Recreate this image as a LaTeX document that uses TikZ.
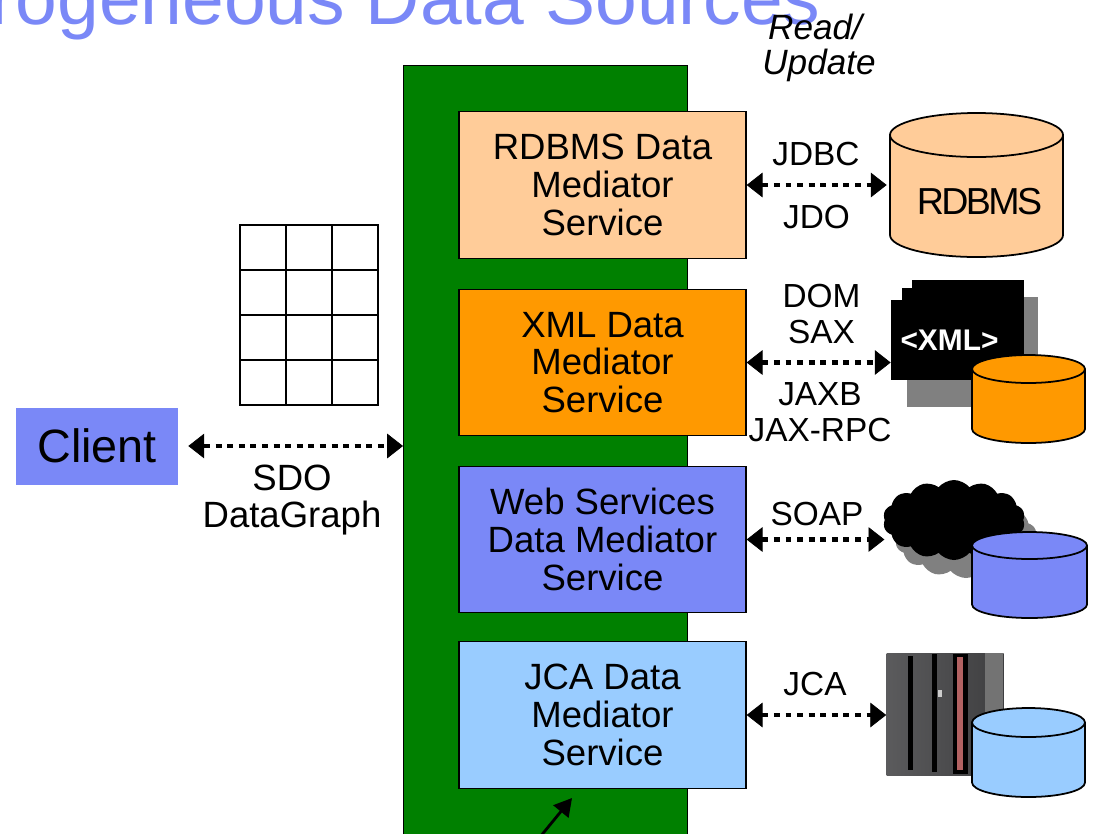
\documentclass[tikz,border=0pt]{standalone}
\usepackage{fontspec}
\setmainfont{Liberation Sans}
\usepackage{tikz}
\usetikzlibrary{arrows.meta,positioning,shapes.symbols}
\definecolor{dmpeach}{RGB}{255,204,153}
\definecolor{dmorange}{RGB}{255,153,0}
\definecolor{dmblue}{RGB}{122,136,247}
\definecolor{dmsky}{RGB}{153,204,255}
\definecolor{dmgreen}{RGB}{0,128,0}
\definecolor{dmshadow}{RGB}{128,128,128}
\definecolor{dmrack}{RGB}{62,62,64}
\definecolor{dmstripe}{RGB}{178,98,98}

\begin{document}
\begin{tikzpicture}[x=0.02cm, y=0.02cm,
  mediator/.style={draw=black, line width=0.8pt, minimum width=5.74cm, minimum height=2.93cm, inner sep=0pt, align=center, font=\fontsize{20.8}{21.5}\selectfont},
  access/.style={line width=2.8pt, dash pattern=on 3.4pt off 3.2pt, {Triangle[length=9pt,width=14pt,line width=0.4pt]}-{Triangle[length=9pt,width=14pt,line width=0.4pt]}},
  api/.style={anchor=base, inner sep=0pt, font=\fontsize{19}{20}\selectfont},
  caption/.style={anchor=base, inner sep=0pt, font=\fontsize{20.8}{21.5}\selectfont},
  dbside/.style={draw=black, line width=1pt},
  page/.style={fill=black, inner sep=0pt}]

  \useasboundingbox (0,0) rectangle (1094,-833);
  \clip (0,0) rectangle (1094,-833);

  %% heading, runs off the top edge
  \node[anchor=base east, inner sep=0pt, text=dmblue, font=\fontsize{42.7}{45}\selectfont] (heading) at (821,-24) {Heterogeneous Data Sources};

  %% mediator bus with the four services
  \node[draw=black, fill=dmgreen, line width=0.8pt, minimum width=5.68cm, minimum height=15.8cm, inner sep=0pt, anchor=north west] (bus) at (403,-65) {};
  \node[mediator, fill=dmpeach] (rdbmsmed) at (602.5,-185) {RDBMS Data\\Mediator\\Service};
  \node[mediator, fill=dmorange] (xmlmed) at (602.5,-362.5) {XML Data\\Mediator\\Service};
  \node[mediator, fill=dmblue] (wsmed) at (602.5,-539.5) {Web Services\\Data Mediator\\Service};
  \node[mediator, fill=dmsky] (jcamed) at (602.5,-715) {JCA Data\\Mediator\\Service};

  %% client and its data graph
  \node[fill=dmblue, minimum width=3.24cm, minimum height=1.54cm, inner sep=0pt, font=\fontsize{26.6}{28}\selectfont] (client) at (97,-446) {Client};
  \draw[line width=1.4pt, shift={(240,-405)}] (0,0) grid[xstep=46, ystep=45] (138,180);
  \draw[line width=1.4pt] (240,-405) rectangle (378,-225);
  \draw[access, shorten <=0.2cm] (client) -- (client -| bus.west);
  \node[caption] (sdo) at (292,-490) {SDO};
  \node[caption] (datagraph) at (292,-527) {DataGraph};

  %% relational store
  \filldraw[dbside, fill=dmpeach] (890,-135) -- (890,-235) arc[start angle=180, end angle=360, x radius=86.5, y radius=22] -- (1063,-135) arc[start angle=0, end angle=180, x radius=86.5, y radius=22] -- cycle;
  \draw[dbside] (890,-135) arc[start angle=180, end angle=360, x radius=86.5, y radius=22];
  \node[inner sep=0pt, minimum width=3.7cm, font=\fontsize{21.4}{22}\selectfont\addfontfeature{LetterSpace=-7}] (rdbms) at (979.5,-201.5) {RDBMS};

  %% xml documents
  \fill[dmshadow] (907,-297) rectangle (1038,-407);
  \fill (912,-280) rectangle (1024,-360);
  \fill (902,-288) rectangle (1016,-368);
  \node[page, minimum width=2.34cm, minimum height=1.6cm, text=white, font=\bfseries\fontsize{17}{18}\selectfont] (xmldoc) at (949.5,-340) {<XML>};
  \filldraw[dbside, fill=dmorange] (972,-369) -- (972,-429) arc[start angle=180, end angle=360, x radius=56.5, y radius=14] -- (1085,-369) arc[start angle=0, end angle=180, x radius=56.5, y radius=14] -- cycle;
  \draw[dbside] (972,-369) arc[start angle=180, end angle=360, x radius=56.5, y radius=14];

  %% web services cloud
  \node[cloud, cloud puffs=14, cloud puff arc=100, aspect=1.7, fill=dmshadow, inner sep=0pt, minimum width=2.84cm, minimum height=1.6cm] (cloudshade) at (966,-538) {};
  \node[cloud, cloud puffs=14, cloud puff arc=100, aspect=1.7, fill=black, inner sep=0pt, minimum width=2.84cm, minimum height=1.6cm] (webcloud) at (954,-520) {};
  \filldraw[dbside, fill=dmblue] (972,-545.5) -- (972,-604.5) arc[start angle=180, end angle=360, x radius=57.5, y radius=13.5] -- (1087,-545.5) arc[start angle=0, end angle=180, x radius=57.5, y radius=13.5] -- cycle;
  \draw[dbside] (972,-545.5) arc[start angle=180, end angle=360, x radius=57.5, y radius=13.5];

  %% mainframe
  \node[left color=dmrack!85, right color=dmrack, inner sep=0pt, minimum width=2.34cm, minimum height=2.44cm] (mainframe) at (945,-714) {};
  \fill[black] (908,-656) rectangle (913,-770);
  \fill[black] (932,-654) rectangle (937,-772);
  \fill[black] (953,-654) rectangle (968,-774);
  \fill[dmstripe] (957,-657) rectangle (963,-770);
  \fill[black!55] (985,-653) rectangle (1003,-775);
  \fill[black!20] (938,-690) rectangle (942,-697);
  \filldraw[dbside, fill=dmsky] (972,-722.5) -- (972,-782.5) arc[start angle=180, end angle=360, x radius=56.5, y radius=14.5] -- (1085,-722.5) arc[start angle=0, end angle=180, x radius=56.5, y radius=14.5] -- cycle;
  \draw[dbside] (972,-722.5) arc[start angle=180, end angle=360, x radius=56.5, y radius=14.5];

  %% access paths and their apis
  \node[anchor=base, inner sep=0pt, font=\itshape\fontsize{20}{21}\selectfont] (readop) at (815,-39) {Read/};
  \node[anchor=base, inner sep=0pt, font=\itshape\fontsize{20}{21}\selectfont] (updateop) at (819,-74) {Update};
  \draw[access] (rdbmsmed.east) -- (rdbmsmed.east -| rdbms.west);
  \node[api] (jdbc) at (816,-165) {JDBC};
  \node[api] (jdo) at (816.5,-228) {JDO};
  \draw[access] (xmlmed.east) -- (xmlmed.east -| xmldoc.west);
  \node[api] (dom) at (821.5,-307) {DOM};
  \node[api] (sax) at (821.5,-343) {SAX};
  \node[api] (jaxb) at (820,-405) {JAXB};
  \node[api] (jaxrpc) at (820,-441) {JAX-RPC};
  \draw[access] (wsmed.east) -- (wsmed.east -| webcloud.west);
  \node[api] (soap) at (817,-525) {SOAP};
  \draw[access] (jcamed.east) -- (jcamed.east -| mainframe.west);
  \node[api] (jca) at (815,-695) {JCA};

  %% pointer from below
  \coordinate (pointertail) at (537.5,-840);
  \coordinate (pointertip) at (572,-798);
  \draw[line width=1.6pt, -{Triangle[length=10pt,width=11pt]}] (pointertail) -- (pointertip);
\end{tikzpicture}
\end{document}
